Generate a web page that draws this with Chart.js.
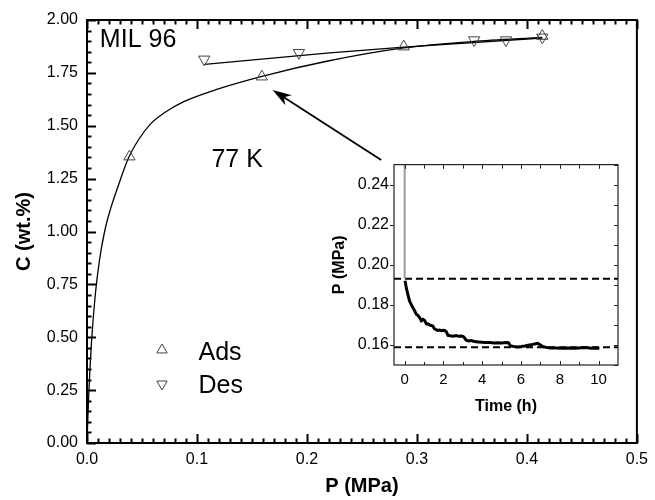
<!DOCTYPE html>
<html><head><meta charset="utf-8">
<script src="https://cdn.jsdelivr.net/npm/chart.js@4.4.1/dist/chart.umd.min.js"></script>
<style>
html,body{margin:0;padding:0;background:#fff;}
#wrap{position:relative;width:655px;height:500px;overflow:hidden;}
#main{position:absolute;left:0;top:0;}
#inset{position:absolute;left:330px;top:150px;}
</style></head><body>
<div id="wrap">
<canvas id="main" width="655" height="500"></canvas>
<canvas id="inset" width="295" height="270"></canvas>
</div>
<script>
// ---------- main chart data ----------
const adsP = [0.0386, 0.159, 0.288, 0.414];
const adsC = [1.354, 1.732, 1.874, 1.924];
const desP = [0.1066, 0.1927, 0.352, 0.381, 0.414];
const desC = [1.814, 1.845, 1.905, 1.905, 1.918];
const adsFitP = [0, 0.0015, 0.004, 0.0075, 0.0115, 0.016, 0.021, 0.028, 0.0375, 0.047, 0.058, 0.070, 0.088, 0.118, 0.160, 0.218, 0.288, 0.350, 0.414];
const adsFitC = [0, 0.22, 0.47, 0.70, 0.87, 1.00, 1.10, 1.21, 1.345, 1.435, 1.51, 1.56, 1.614, 1.672, 1.735, 1.805, 1.868, 1.898, 1.918];
const desFitP = [0.107, 0.218, 0.288, 0.414];
const desFitC = [1.790, 1.843, 1.872, 1.915];
const xTicksMain = [0.0, 0.1, 0.2, 0.3, 0.4, 0.5];
const yTicksMain = [0.00, 0.25, 0.50, 0.75, 1.00, 1.25, 1.50, 1.75, 2.00];

// ---------- inset data ----------
const timeH = [
0.02,0.09,0.17,0.26,0.35,0.43,0.52,0.60,0.68,0.77,
0.86,0.95,1.03,1.12,1.20,1.28,1.37,1.45,1.54,1.62,
1.71,1.80,1.90,2.00,2.06,2.15,2.23,2.35,2.50,2.65,
2.80,2.95,3.05,3.17,3.30,3.45,3.60,3.80,4.00,4.20,
4.40,4.60,4.80,5.00,5.23,5.35,5.45,5.60,5.80,6.00,
6.20,6.43,6.60,6.75,6.86,7.00,7.12,7.30,7.50,7.80,
8.10,8.40,8.83,9.10,9.35,9.60,9.80,10.04];
const pressure = [
0.1920,0.1882,0.1850,0.1817,0.1800,0.1785,0.1770,0.1753,0.1748,0.1737,
0.1721,0.1728,0.1722,0.1705,0.1706,0.1700,0.1697,0.1695,0.1680,0.1676,
0.1672,0.1674,0.1671,0.1673,0.1672,0.1666,0.1648,0.1646,0.1644,0.1647,
0.1643,0.1644,0.1640,0.1624,0.1620,0.1622,0.1617,0.1615,0.1613,0.1612,
0.1612,0.1610,0.1611,0.1610,0.1612,0.1611,0.1596,0.1593,0.1590,0.1592,
0.1595,0.1600,0.1603,0.1606,0.1608,0.1600,0.1592,0.1588,0.1585,0.1585,
0.1584,0.1585,0.1584,0.1586,0.1587,0.1584,0.1585,0.1584];
const spikeT = [0, 0];
const spikeP = [0.26, 0.193];
const levelStart = 0.193;
const levelEnd = 0.1588;
const xTicksInset = [0, 2, 4, 6, 8, 10];
const yTicksInset = [0.16, 0.18, 0.20, 0.22, 0.24];

const FONT = "'Liberation Sans', Arial, Helvetica, sans-serif";
const pts = (xs, ys) => xs.map((v, i) => ({x: v, y: ys[i]}));
function range(a, b, step) { const out = []; const n = Math.round((b - a) / step); for (let i = 0; i <= n; i++) out.push(+(a + i * step).toFixed(6)); return out; }

// ---------- frame + inward ticks plugin ----------
const frameTicks = {
  id: 'frameTicks',
  afterDraw(chart, args, o) {
    const {ctx, chartArea: a, scales: {x, y}} = chart;
    ctx.save();
    ctx.strokeStyle = o.color;
    ctx.lineWidth = o.tickWidth;
    ctx.beginPath();
    const drawSide = (side, spec) => {
      if (!spec) return;
      [['major', spec.majorLen], ['minor', spec.minorLen]].forEach(([k, len]) => {
        const vals = (side === 'top' || side === 'bottom') ? o.x[k] : o.y[k];
        if (!vals || !len) return;
        vals.forEach(v => {
          const d = spec.dir;
          if (side === 'bottom') { const p = Math.round(x.getPixelForValue(v)) + 0.5; ctx.moveTo(p, a.bottom); ctx.lineTo(p, a.bottom - d * len); }
          if (side === 'top') { const p = Math.round(x.getPixelForValue(v)) + 0.5; ctx.moveTo(p, a.top); ctx.lineTo(p, a.top + d * len); }
          if (side === 'left') { const p = Math.round(y.getPixelForValue(v)) + 0.5; ctx.moveTo(a.left, p); ctx.lineTo(a.left + d * len, p); }
          if (side === 'right') { const p = Math.round(y.getPixelForValue(v)) + 0.5; ctx.moveTo(a.right, p); ctx.lineTo(a.right - d * len, p); }
        });
      });
    };
    ['bottom', 'top', 'left', 'right'].forEach(s => drawSide(s, o.sides[s]));
    ctx.stroke();
    ctx.lineWidth = o.frameWidth;
    ctx.strokeRect(a.left, a.top, a.right - a.left, a.bottom - a.top);
    ctx.restore();
  }
};

// ---------- annotations plugin (texts, legend, arrow) ----------
function triangle(ctx, cx, cy, r, down) {
  let rad = down ? Math.PI : 0;
  ctx.beginPath();
  for (let i = 0; i < 3; i++) {
    const px = cx + Math.sin(rad) * r, py = cy - Math.cos(rad) * r;
    if (i === 0) ctx.moveTo(px, py); else ctx.lineTo(px, py);
    rad += 2 * Math.PI / 3;
  }
  ctx.closePath();
  ctx.stroke();
}
const annot = {
  id: 'annot',
  afterDatasetsDraw(chart, args, o) {
    if (!o || !o.texts) return;
    const {ctx, scales: {x, y}} = chart;
    ctx.save();
    ctx.fillStyle = '#000';
    ctx.textBaseline = 'alphabetic';
    ctx.textAlign = 'left';
    o.texts.forEach(t => { ctx.font = t.font; ctx.fillText(t.text, x.getPixelForValue(t.x), y.getPixelForValue(t.y)); });
    ctx.strokeStyle = '#444';
    ctx.lineWidth = 1;
    o.markers.forEach(m => triangle(ctx, x.getPixelForValue(m.x), y.getPixelForValue(m.y), m.r, m.down));
    // arrow
    const ar = o.arrow;
    const x0 = x.getPixelForValue(ar.from[0]), y0 = y.getPixelForValue(ar.from[1]);
    const x1 = x.getPixelForValue(ar.to[0]), y1 = y.getPixelForValue(ar.to[1]);
    const ang = Math.atan2(y1 - y0, x1 - x0);
    const ux = Math.cos(ang), uy = Math.sin(ang), vx = -uy, vy = ux;
    const L = ar.headLen, W = ar.headHalf, B = ar.headLen * 0.7;
    ctx.strokeStyle = '#000';
    ctx.lineWidth = ar.width;
    ctx.beginPath();
    ctx.moveTo(x0, y0);
    ctx.lineTo(x1 - ux * B, y1 - uy * B);
    ctx.stroke();
    ctx.fillStyle = '#000';
    ctx.beginPath();
    ctx.moveTo(x1, y1);
    ctx.lineTo(x1 - ux * L + vx * W, y1 - uy * L + vy * W);
    ctx.lineTo(x1 - ux * B, y1 - uy * B);
    ctx.lineTo(x1 - ux * L - vx * W, y1 - uy * L - vy * W);
    ctx.closePath();
    ctx.fill();
    ctx.restore();
  }
};

// ---------- main chart ----------
new Chart(document.getElementById('main'), {
  type: 'scatter',
  data: {
    datasets: [
      {label: 'Ads', data: pts(adsP, adsC), showLine: false, pointStyle: 'triangle', pointRadius: 6.5,
       pointBorderColor: '#444', pointBackgroundColor: 'rgba(0,0,0,0)', pointBorderWidth: 1},
      {label: 'Des', data: pts(desP, desC), showLine: false, pointStyle: 'triangle', pointRotation: 180, pointRadius: 6.5,
       pointBorderColor: '#444', pointBackgroundColor: 'rgba(0,0,0,0)', pointBorderWidth: 1},
      {label: 'Ads fit', data: pts(adsFitP, adsFitC), showLine: true, borderColor: '#000', borderWidth: 1.3,
       pointRadius: 0, cubicInterpolationMode: 'monotone', fill: false},
      {label: 'Des fit', data: pts(desFitP, desFitC), showLine: true, borderColor: '#000', borderWidth: 1.3,
       pointRadius: 0, tension: 0, fill: false}
    ]
  },
  options: {
    responsive: false, animation: false, events: [],
    layout: {padding: {top: 20, right: 11, left: 0, bottom: 0}},
    plugins: {
      legend: {display: false}, tooltip: {enabled: false},
      frameTicks: {
        color: '#000', tickWidth: 2, frameWidth: 2,
        x: {major: xTicksMain, minor: range(0, 0.5, 0.01)},
        y: {major: yTicksMain, minor: range(0, 2, 0.05)},
        sides: {bottom: {majorLen: 9, minorLen: 4.5, dir: 1}, top: {majorLen: 9, minorLen: 4.5, dir: 1},
                left: {majorLen: 9, minorLen: 4.5, dir: 1}, right: null}
      },
      annot: {
        texts: [
          {text: 'MIL 96', x: 0.0117, y: 1.872, font: "25px " + FONT},
          {text: '77 K', x: 0.1131, y: 1.305, font: "25px " + FONT},
          {text: 'Ads', x: 0.1014, y: 0.392, font: "25px " + FONT},
          {text: 'Des', x: 0.1014, y: 0.236, font: "25px " + FONT}
        ],
        markers: [
          {x: 0.0682, y: 0.440, r: 6, down: false},
          {x: 0.0682, y: 0.279, r: 6, down: true}
        ],
        arrow: {from: [0.2675, 1.338], to: [0.1688, 1.669], width: 1.8, headLen: 19, headHalf: 6}
      }
    },
    scales: {
      x: {
        type: 'linear', min: 0, max: 0.5,
        afterBuildTicks: s => { s.ticks = xTicksMain.map(v => ({value: v})); },
        afterFit: s => { s.height = 57; },
        ticks: {callback: v => Number(v).toFixed(1), font: {family: FONT, size: 16}, color: '#000', padding: 7, maxRotation: 0, autoSkip: false},
        grid: {display: false, drawTicks: false}, border: {display: false},
        title: {display: true, text: 'P (MPa)', font: {family: FONT, size: 20, weight: 'bold'}, color: '#000', padding: {top: 0, bottom: 2}}
      },
      y: {
        type: 'linear', min: 0, max: 2,
        afterBuildTicks: s => { s.ticks = yTicksMain.map(v => ({value: v})); },
        afterFit: s => { s.width = 87; },
        ticks: {callback: v => Number(v).toFixed(2), font: {family: FONT, size: 16}, color: '#000', padding: 9, autoSkip: false},
        grid: {display: false, drawTicks: false}, border: {display: false},
        title: {display: true, text: 'C (wt.%)', font: {family: FONT, size: 20, weight: 'bold'}, color: '#000', padding: {top: 12, bottom: 0}}
      }
    }
  },
  plugins: [frameTicks, annot]
});

// ---------- inset chart ----------
new Chart(document.getElementById('inset'), {
  type: 'scatter',
  data: {
    datasets: [
      {label: 'P', data: pts(timeH, pressure), showLine: true, borderColor: '#000', borderWidth: 3, pointRadius: 0, tension: 0},
      {label: 'spike', data: pts(spikeT, spikeP), showLine: true, borderColor: '#9a9a9a', borderWidth: 2, pointRadius: 0},
      {label: 'start', data: [{x: -0.55, y: levelStart}, {x: 11, y: levelStart}], showLine: true, borderColor: '#000', borderWidth: 2, borderDash: [7, 4], pointRadius: 0},
      {label: 'end', data: [{x: -0.55, y: levelEnd}, {x: 11, y: levelEnd}], showLine: true, borderColor: '#000', borderWidth: 2, borderDash: [7, 4], pointRadius: 0}
    ]
  },
  options: {
    responsive: false, animation: false, events: [],
    layout: {padding: {top: 9, right: 7, left: 0, bottom: 0}},
    plugins: {
      legend: {display: false}, tooltip: {enabled: false},
      frameTicks: {
        color: '#222', tickWidth: 1, frameWidth: 1.2,
        x: {major: xTicksInset, minor: range(0, 10, 1)},
        y: {major: yTicksInset, minor: range(0.15, 0.25, 0.01)},
        sides: {bottom: {majorLen: 4, minorLen: 3, dir: 1}, top: {majorLen: 4, minorLen: 4, dir: 1},
                left: {majorLen: 4, minorLen: 0, dir: -1}, right: {majorLen: 4, minorLen: 4, dir: 1}}
      }
    },
    scales: {
      x: {
        type: 'linear', min: -0.55, max: 11,
        afterBuildTicks: s => { s.ticks = xTicksInset.map(v => ({value: v})); },
        afterFit: s => { s.height = 55; },
        ticks: {callback: v => String(v), font: {family: FONT, size: 15}, color: '#000', padding: 6, maxRotation: 0, autoSkip: false},
        grid: {display: false, drawTicks: false}, border: {display: false},
        title: {display: true, text: 'Time (h)', font: {family: FONT, size: 16, weight: 'bold'}, color: '#000', padding: {top: 0, bottom: 4}}
      },
      y: {
        type: 'linear', min: 0.15, max: 0.25,
        afterBuildTicks: s => { s.ticks = yTicksInset.map(v => ({value: v})); },
        afterFit: s => { s.width = 64; },
        ticks: {callback: v => Number(v).toFixed(2), font: {family: FONT, size: 16}, color: '#000', padding: 5, autoSkip: false},
        grid: {display: false, drawTicks: false}, border: {display: false},
        title: {display: true, text: 'P (MPa)', font: {family: FONT, size: 16, weight: 'bold'}, color: '#000', padding: {top: 0, bottom: 0}}
      }
    }
  },
  plugins: [frameTicks]
});
</script>
</body></html>
